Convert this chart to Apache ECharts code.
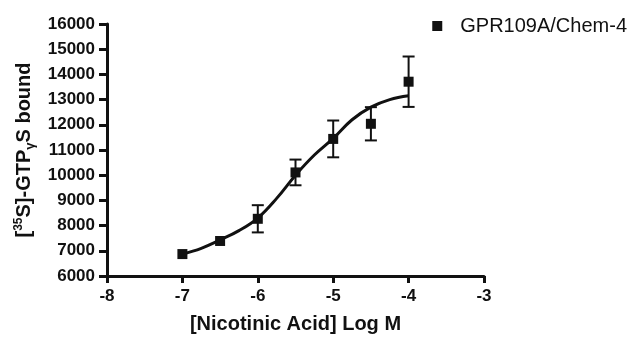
<!DOCTYPE html>
<html>
<head>
<meta charset="utf-8">
<script src="https://cdn.jsdelivr.net/npm/echarts@6/dist/echarts.min.js"></script>
<style>html,body{margin:0;padding:0;background:#fff}#c{width:640px;height:343px}</style>
</head>
<body>
<div id="c"></div>
<script>
// Data
var logConc = [-7, -6.5, -6, -5.5, -5, -4.5, -4];
var meanBound = [6870, 7390, 8270, 10110, 11440, 12040, 13710];
var semBound = [30, 30, 540, 510, 730, 660, 1000];
var curveX = [-7, -6.75, -6.5, -6.25, -6, -5.75, -5.5, -5.25, -5, -4.75, -4.5, -4.25, -4];
var curveY = [6870, 7100, 7430, 7800, 8300, 9080, 10000, 10800, 11460, 12200, 12700, 13000, 13150];
var xTicks = [-8, -7, -6, -5, -4, -3];
var yTicks = [6000, 7000, 8000, 9000, 10000, 11000, 12000, 13000, 14000, 15000, 16000];
var seriesName = 'GPR109A/Chem-4';

var FONT = '"Liberation Sans", Arial, Helvetica, sans-serif';
var INK = '#111111';

var points = logConc.map(function (x, i) { return [x, meanBound[i]]; });
var errs = logConc.map(function (x, i) { return [x, meanBound[i] - semBound[i], meanBound[i] + semBound[i]]; });
var curve = curveX.map(function (x, i) { return [x, curveY[i]]; });

var chart = echarts.init(document.getElementById('c'), null, {renderer: 'canvas'});
chart.setOption({
  animation: false,
  backgroundColor: '#fff',
  grid: {left: 107, right: 156, top: 24, bottom: 67, containLabel: false},
  legend: {
    data: [{name: seriesName, icon: 'rect', itemStyle: {color: INK, opacity: 1}}],
    right: 8, top: 11,
    itemWidth: 10, itemHeight: 10,
    textStyle: {fontFamily: FONT, fontSize: 20, color: INK, padding: [0, 0, 0, 13]}
  },
  xAxis: {
    type: 'value', min: xTicks[0], max: xTicks[xTicks.length - 1], interval: 1,
    name: '[Nicotinic Acid] Log M', nameLocation: 'middle', nameGap: 38,
    nameTextStyle: {fontFamily: FONT, fontSize: 20, fontWeight: 'bold', color: INK},
    axisLine: {show: true, onZero: false, lineStyle: {color: INK, width: 3}},
    axisTick: {show: true, inside: false, length: 7, lineStyle: {color: INK, width: 3}},
    axisLabel: {fontFamily: FONT, fontSize: 17, fontWeight: 'bold', color: INK, margin: 12,
      formatter: function (v) { return String(v); }},
    splitLine: {show: false}
  },
  yAxis: {
    type: 'value', min: yTicks[0], max: yTicks[yTicks.length - 1], interval: 1000,
    name: '{b|[}{sup|35}{b|S]-GTP}{sub|γ}{b|S bound}', nameLocation: 'middle', nameGap: 68,
    nameTextStyle: {
      fontFamily: FONT, color: INK,
      rich: {
        b: {fontFamily: FONT, fontSize: 20, fontWeight: 'bold', color: INK, lineHeight: 24, verticalAlign: 'middle'},
        sup: {fontFamily: FONT, fontSize: 12, fontWeight: 'bold', color: INK, lineHeight: 24, verticalAlign: 'top', padding: [0, 0, 10, 0]},
        sub: {fontFamily: FONT, fontSize: 13, fontWeight: 'bold', color: INK, lineHeight: 24, verticalAlign: 'bottom', padding: [8, 0, 0, 0]}
      }
    },
    axisLine: {show: true, onZero: false, lineStyle: {color: INK, width: 3}},
    axisTick: {show: true, inside: false, length: 8, lineStyle: {color: INK, width: 3}},
    axisLabel: {fontFamily: FONT, fontSize: 17, fontWeight: 'bold', color: INK, margin: 12,
      formatter: function (v) { return String(v); }},
    splitLine: {show: false}
  },
  series: [
    {
      name: 'fit', type: 'line', data: curve, smooth: 0.4, showSymbol: false, symbol: 'none',
      lineStyle: {color: INK, width: 3}, z: 2, silent: true
    },
    {
      name: 'err', type: 'custom', data: errs, z: 3, silent: true,
      renderItem: function (params, api) {
        var x = api.value(0);
        var lo = api.coord([x, api.value(1)]);
        var hi = api.coord([x, api.value(2)]);
        if (Math.abs(lo[1] - hi[1]) < 11) { return null; }
        var hw = 6;
        var st = {stroke: INK, lineWidth: 2};
        return {
          type: 'group',
          children: [
            {type: 'line', shape: {x1: lo[0], y1: lo[1], x2: hi[0], y2: hi[1]}, style: st},
            {type: 'line', shape: {x1: lo[0] - hw, y1: lo[1], x2: lo[0] + hw, y2: lo[1]}, style: st},
            {type: 'line', shape: {x1: hi[0] - hw, y1: hi[1], x2: hi[0] + hw, y2: hi[1]}, style: st}
          ]
        };
      }
    },
    {
      name: seriesName, type: 'scatter', data: points, symbol: 'rect', symbolSize: 10,
      itemStyle: {color: INK, opacity: 1}, z: 4
    }
  ]
});
</script>
</body>
</html>
